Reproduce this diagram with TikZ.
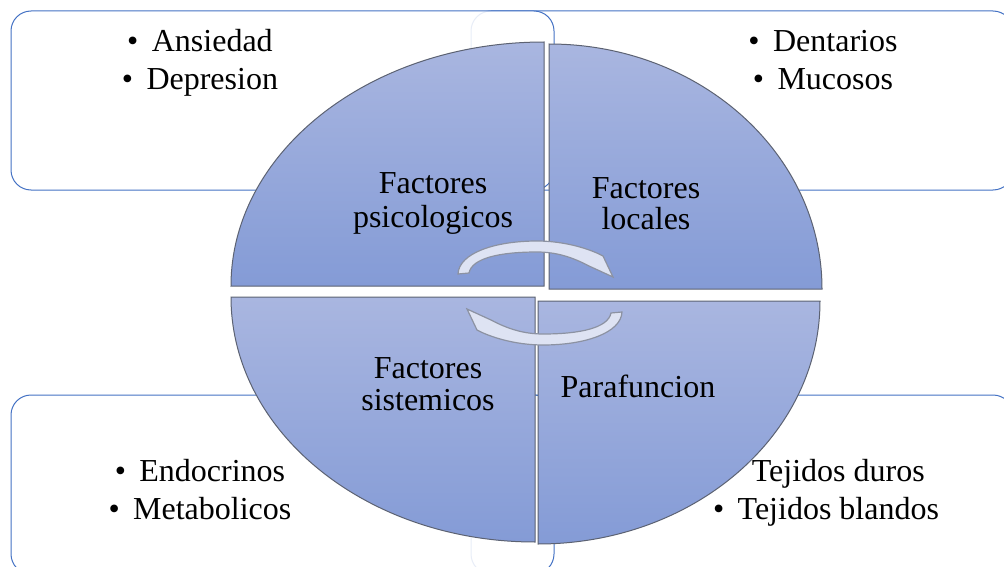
\documentclass[tikz,border=0pt]{standalone}
\usepackage{fontspec}
\setmainfont{Liberation Serif}
\newcommand{\bul}{\textbullet\hspace{0.42em}}

\definecolor{boxblue}{RGB}{68,114,196}
\definecolor{wedgeline}{RGB}{92,98,114}
\definecolor{wedgelight}{RGB}{169,182,224}
\definecolor{wedgedark}{RGB}{132,155,214}
\definecolor{arrowfill}{RGB}{222,227,243}
\definecolor{arrowline}{RGB}{140,146,162}

\tikzset{every picture/.style={line width=0.75pt}}
\tikzset{
  listbox/.style={draw=boxblue, fill=white, fill opacity=0.88, rounded corners=15pt},
  wedge/.style={draw=wedgeline, top color=wedgelight, bottom color=wedgedark},
  cyclearrow/.style={draw=arrowline, fill=arrowfill, line width=0.9pt},
  listtext/.style={font=\fontsize{24}{29}\selectfont, anchor=base, inner sep=0pt},
  wedgetext/.style={font=\fontsize{24}{29}\selectfont, anchor=base, inner sep=0pt}
}

\begin{document}
\begin{tikzpicture}[x=0.75pt,y=0.75pt,yscale=-1,xscale=1]
	\clip (0,0) rectangle (1004,567);

	%Rounded Rect (right ones first, left ones lie over them)
	\draw [listbox] (471,11) rectangle (1013,190) ;
	\draw [listbox] (11,11) rectangle (554,190) ;
	\draw [listbox] (471,395) rectangle (1013,574) ;
	\draw [listbox] (11,395) rectangle (554,574) ;

	% Text Node
	\draw (200,52) node [listtext] (ansiedad) {\bul Ansiedad};
	% Text Node
	\draw (200,90) node [listtext] (depresion) {\bul Depresion};
	% Text Node
	\draw (823,52) node [listtext] (dentarios) {\bul Dentarios};
	% Text Node
	\draw (823,90) node [listtext] (mucosos) {\bul Mucosos};
	% Text Node
	\draw (200,481) node [listtext] (endocrinos) {\bul Endocrinos};
	% Text Node
	\draw (200,519) node [listtext] (metabolicos) {\bul Metabolicos};
	% Text Node
	\draw (826,481) node [listtext] (duros) {\bul Tejidos duros};
	% Text Node
	\draw (826,519) node [listtext] (blandos) {\bul Tejidos blandos};

	%Shape: Quarter Ellipse
	\draw [wedge] (544,286) -- (231,286) arc [start angle=180, end angle=270, x radius=313, y radius=244] -- cycle ;
	%Shape: Quarter Ellipse
	\draw [wedge] (549,289) -- (549,44) arc [start angle=270, end angle=360, x radius=273, y radius=245] -- cycle ;
	%Shape: Quarter Ellipse
	\draw [wedge] (535,297) -- (231,297) arc [start angle=180, end angle=90, x radius=304, y radius=245] -- cycle ;
	%Shape: Quarter Ellipse
	\draw [wedge] (538,301) -- (820,301) arc [start angle=0, end angle=90, x radius=282, y radius=243] -- cycle ;

	% Text Node
	\draw (433,194) node [wedgetext] (psiA) {Factores};
	% Text Node
	\draw (433,227) node [wedgetext] (psiB) {psicologicos};
	% Text Node
	\draw (646,198) node [wedgetext] (locA) {Factores};
	% Text Node
	\draw (646,229) node [wedgetext] (locB) {locales};
	% Text Node
	\draw (428,378) node [wedgetext] (sisA) {Factores};
	% Text Node
	\draw (428,410) node [wedgetext] (sisB) {sistemicos};
	% Text Node
	\draw (638,397) node [wedgetext] (para) {Parafuncion};

	%Curved Arrow
	\draw [cyclearrow] (458,274) .. controls (459,253) and (495,241) .. (537,241) .. controls (565,241) and (590,249) .. (603,256) -- (613,277) -- (589,266) .. controls (572,257) and (556,252) .. (537,252) .. controls (500,252) and (472,258) .. (469,273) -- cycle ;
	%Curved Arrow
	\begin{scope}[rotate around={180:(540,293)}]
	\draw [cyclearrow] (458,274) .. controls (459,253) and (495,241) .. (537,241) .. controls (565,241) and (590,249) .. (603,256) -- (613,277) -- (589,266) .. controls (572,257) and (556,252) .. (537,252) .. controls (500,252) and (472,258) .. (469,273) -- cycle ;
	\end{scope}

\end{tikzpicture}
\end{document}
